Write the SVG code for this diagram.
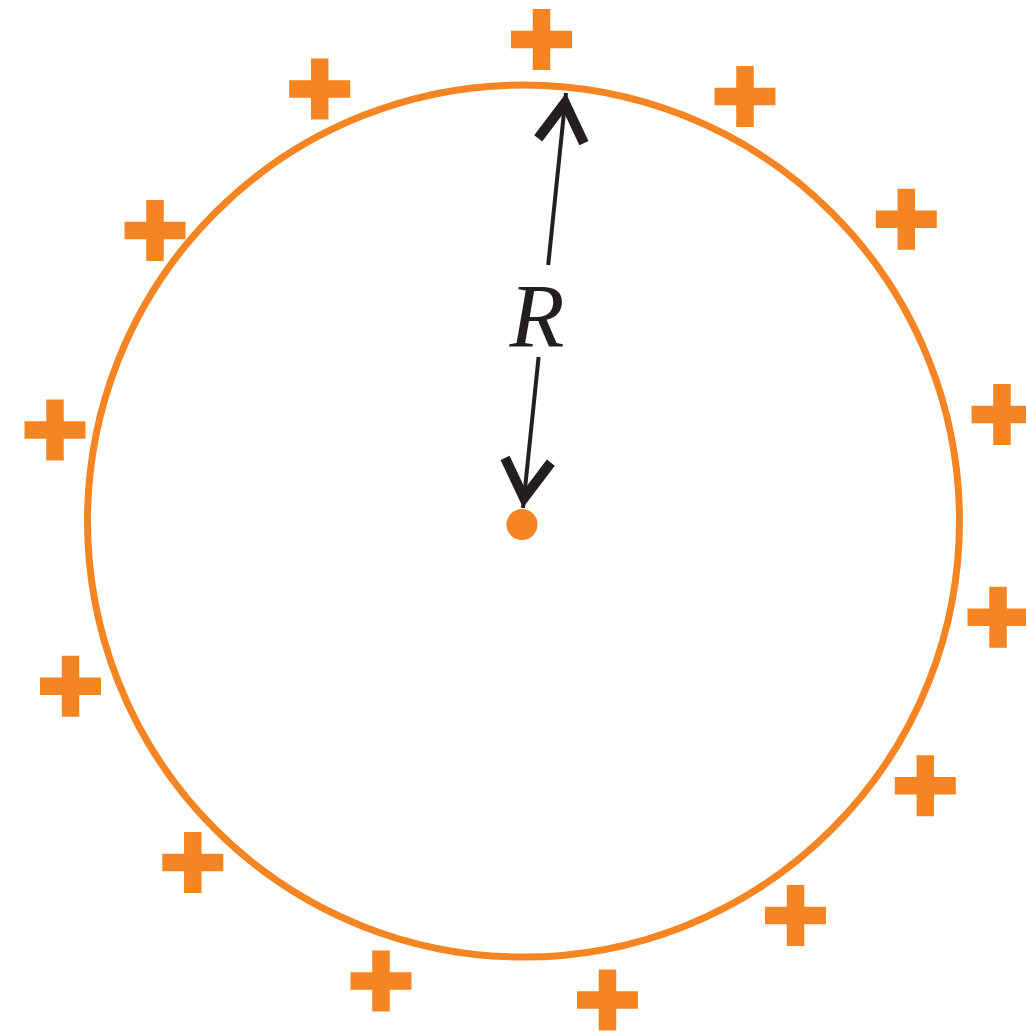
<svg xmlns="http://www.w3.org/2000/svg" xmlns:xlink="http://www.w3.org/1999/xlink" width="1026" height="1034" viewBox="0 0 1026 1034">
  <style>
    .orange { fill: #F48522; }
    .ring { fill: none; stroke: #F48522; stroke-width: 7; }
    .shaft { fill: none; stroke: #231F20; stroke-width: 4; }
    .label { font-family: "Liberation Serif", "Times New Roman", serif; font-style: italic; font-size: 90px; fill: #231F20; }
  </style>
  <defs>
    <path id="plus" class="orange" d="M-8.75,-30.5 h17.5 v21.75 h21.75 v17.5 h-21.75 v21.75 h-17.5 v-21.75 h-21.75 v-17.5 h21.75 z"/>
    <marker id="chev" markerUnits="userSpaceOnUse" markerWidth="60" markerHeight="70" viewBox="-50 -35 60 70" refX="10" refY="0" orient="auto" overflow="visible">
      <path d="M-38,-23 L0,0 L-38,23" fill="none" stroke="#231F20" stroke-width="10" stroke-linejoin="miter" stroke-miterlimit="10"/>
    </marker>
  </defs>
  <rect width="1026" height="1034" fill="#ffffff"/>
  <g id="sphere">
    <circle class="ring" cx="523.5" cy="521" r="436"/>
  </g>
  <g id="center">
    <circle class="orange" cx="522" cy="524.5" r="15.5"/>
  </g>
  <g id="charges">
    <use xlink:href="#plus" href="#plus" x="541.5" y="39.5"/>
    <use xlink:href="#plus" href="#plus" x="319.7" y="89"/>
    <use xlink:href="#plus" href="#plus" x="745" y="96.5"/>
    <use xlink:href="#plus" href="#plus" x="155" y="230.5"/>
    <use xlink:href="#plus" href="#plus" x="906.3" y="219.3"/>
    <use xlink:href="#plus" href="#plus" x="55" y="430"/>
    <use xlink:href="#plus" href="#plus" x="1002" y="414.5"/>
    <use xlink:href="#plus" href="#plus" x="998" y="617.3"/>
    <use xlink:href="#plus" href="#plus" x="70.5" y="686.3"/>
    <use xlink:href="#plus" href="#plus" x="925.3" y="785.8"/>
    <use xlink:href="#plus" href="#plus" x="192.8" y="862.5"/>
    <use xlink:href="#plus" href="#plus" x="795.5" y="915.5"/>
    <use xlink:href="#plus" href="#plus" x="381" y="981"/>
    <use xlink:href="#plus" href="#plus" x="607.5" y="1000"/>
  </g>
  <g id="connectors">
    <line class="shaft" x1="548.2" y1="265" x2="566" y2="93" marker-end="url(#chev)"/>
    <line class="shaft" x1="538.6" y1="357" x2="523" y2="508" marker-end="url(#chev)"/>
  </g>
  <g id="label">
    <text class="label" x="537" y="347" text-anchor="middle">R</text>
  </g>
</svg>
